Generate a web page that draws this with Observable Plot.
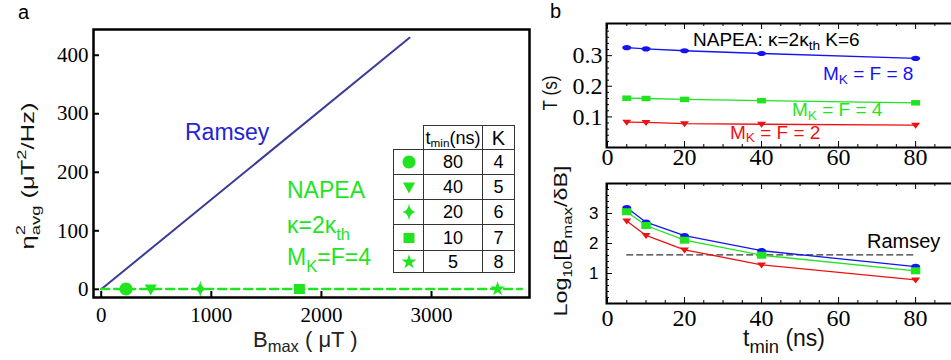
<!DOCTYPE html>
<html><head><meta charset="utf-8">
<script src="https://cdn.jsdelivr.net/npm/d3@7"></script>
<script src="https://cdn.jsdelivr.net/npm/@observablehq/plot@0.6"></script>
<style>
html,body{margin:0;padding:0;background:#fff;overflow:hidden}
#fig{position:relative;width:951px;height:360px;overflow:hidden;background:#fff}
.pl{position:absolute}
.pl svg{max-width:none!important;display:block;overflow:visible}
#tbl{position:absolute;left:393px;top:125px;border-collapse:collapse;table-layout:fixed;width:121px;font-family:"Liberation Sans",Arial,sans-serif;color:#000}
#tbl td,#tbl th{border:1px solid #333;padding:0;text-align:center;font-weight:normal;font-size:18px;line-height:1}
#tbl th.blank{border-top:none;border-left:none}
#tbl sub{font-size:0.65em;vertical-align:-0.25em;line-height:0}
#tbl td svg{display:block;margin:auto}
#ann{position:absolute;left:0;top:0;pointer-events:none}
</style></head><body>
<div id="fig">
 <div id="pa" class="pl" style="left:0;top:0;width:540px;height:360px"></div>
 <div id="pb1" class="pl" style="left:540px;top:0;width:414px;height:170px"></div>
 <div id="pb2" class="pl" style="left:540px;top:170px;width:414px;height:190px"></div>
 <table id="tbl"><colgroup><col style="width:30px"><col style="width:59px"><col style="width:32px"></colgroup></table>
 <svg id="ann" width="951" height="360"></svg>
</div>
<script>
// ---------- data ----------
// panel a
const ramseyB = [0, 2800];
const ramseyEta = [0, 430];
const napeaLineB = [0, 3820];
const napeaLineEta = [0.5, 0.5];
const napeaB = [225, 450, 900, 1800, 3600];
const napeaEta = [0.5, 0.5, 0.5, 0.5, 0.5];
const napeaTmin = [80, 40, 20, 10, 5];
const napeaK = [4, 5, 6, 7, 8];
const aXTicks = [0, 1000, 2000, 3000];
const aYTicks = [0, 100, 200, 300, 400];
// panel b
const tmin = [5, 10, 20, 40, 80];
const T_F8 = [0.326, 0.322, 0.316, 0.307, 0.291];
const T_F4 = [0.161, 0.160, 0.157, 0.153, 0.146];
const T_F2 = [0.083, 0.082, 0.078, 0.076, 0.073];
const L_F8 = [3.19, 2.71, 2.26, 1.76, 1.23];
const L_F4 = [3.06, 2.60, 2.11, 1.61, 1.09];
const L_F2 = [2.75, 2.27, 1.79, 1.29, 0.79];
const ramseyLogT = [5, 80];
const ramseyLog = [1.62, 1.62];
const bXTicks = [0, 20, 40, 60, 80];
const b1YTicks = [0.1, 0.2, 0.3];
const b2YTicks = [1, 2, 3];

// ---------- styles ----------
const GREEN = "#1fe41f", BLUE = "#1414f0", RED = "#ee1111", NAVY = "#3b3b98";
const SERIF_STACK = "'Liberation Serif', 'Times New Roman', serif";
const SANS_STACK = "'Liberation Sans', Arial, sans-serif";

// ---------- custom symbols ----------
function ellipseSym(rx, ry) { return {draw(c) { const k = 0.5523;
  c.moveTo(rx, 0); c.bezierCurveTo(rx, ry*k, rx*k, ry, 0, ry); c.bezierCurveTo(-rx*k, ry, -rx, ry*k, -rx, 0);
  c.bezierCurveTo(-rx, -ry*k, -rx*k, -ry, 0, -ry); c.bezierCurveTo(rx*k, -ry, rx, -ry*k, rx, 0); c.closePath(); }}; }
function rectSym(w, h) { return {draw(c) { c.rect(-w/2, -h/2, w, h); }}; }
function triDownSym(w, h) { return {draw(c) { c.moveTo(-w/2, -h*0.4); c.lineTo(w/2, -h*0.4); c.lineTo(0, h*0.6); c.closePath(); }}; }
function sparkleSym(w, h) { return {draw(c) { const a = w/2, b = h/2, q = 0.13;
  c.moveTo(0, -b); c.quadraticCurveTo(a*q, -b*q, a, 0); c.quadraticCurveTo(a*q, b*q, 0, b);
  c.quadraticCurveTo(-a*q, b*q, -a, 0); c.quadraticCurveTo(-a*q, -b*q, 0, -b); c.closePath(); }}; }
function starSym(R) { return {draw(c) { d3.symbolStar.draw(c, R*R/0.8908130915292852); }}; }

const aSyms = [ellipseSym(6.5, 6.5), triDownSym(12, 11), sparkleSym(13, 17), rectSym(11, 10), starSym(7.8)];

function frameTicks({xMajor = [], xMinor = [], yMajor = [], yMinor = [], fw, fh, major = 6, minor = 3, sw = 1, top = false}) {
  const m = [
    Plot.ruleX(xMajor, {insetTop: fh - major, strokeWidth: sw}),
    Plot.ruleX(xMinor, {insetTop: fh - minor, strokeWidth: sw}),
    Plot.ruleY(yMajor, {insetRight: fw - major, strokeWidth: sw}),
    Plot.ruleY(yMinor, {insetRight: fw - minor, strokeWidth: sw})
  ];
  if (top) m.push(Plot.ruleX(xMajor, {insetBottom: fh - major, strokeWidth: sw}),
                  Plot.ruleX(xMinor, {insetBottom: fh - minor, strokeWidth: sw}));
  return m;
}

// ---------- panel a ----------
const ramseyRows = ramseyB.map((B, i) => ({B, eta: ramseyEta[i]}));
const napeaLineRows = napeaLineB.map((B, i) => ({B, eta: napeaLineEta[i]}));
const napeaRows = napeaB.map((B, i) => ({B, eta: napeaEta[i], t: napeaTmin[i], K: napeaK[i]}));

const pa = Plot.plot({
  width: 540, height: 360, marginLeft: 93, marginRight: 11, marginTop: 29, marginBottom: 63,
  x: {domain: [-70, 3890]}, y: {domain: [-14, 444]},
  style: {fontSize: "21px", fontFamily: SERIF_STACK, color: "#000", background: "transparent", maxWidth: "none"},
  marks: [
    Plot.line(ramseyRows, {x: "B", y: "eta", stroke: NAVY, strokeWidth: 2}),
    Plot.line(napeaLineRows, {x: "B", y: "eta", stroke: GREEN, strokeWidth: 2.5, strokeDasharray: "8,5"}),
    ...aSyms.map((s, k) => Plot.dot(napeaRows, {filter: (d, i) => i === k, x: "B", y: "eta", symbol: s, r: 1, fill: GREEN, stroke: "none"})),
    Plot.frame({stroke: "#000", strokeWidth: 2.5}),
    ...frameTicks({xMajor: aXTicks, yMajor: aYTicks, fw: 436, fh: 268, major: 6, sw: 2}),
    Plot.axisX(aXTicks, {tickSize: 0, tickPadding: 10, label: null, fontFamily: SERIF_STACK, fontSize: 21, tickFormat: d => String(d)}),
    Plot.axisY(aYTicks, {tickSize: 0, tickPadding: 5, label: null, fontFamily: SERIF_STACK, fontSize: 21, tickFormat: d => String(d)})
  ]
});
document.getElementById("pa").append(pa);

// ---------- panel b top ----------
const bRows = tmin.map((t, i) => ({t, T8: T_F8[i], T4: T_F4[i], T2: T_F2[i], L8: L_F8[i], L4: L_F4[i], L2: L_F2[i]}));
const bXMinor = d3.range(5, 90, 5).filter(v => v % 20 !== 0);
const b1YMinor = d3.range(0.02, 0.401, 0.02).filter(v => Math.abs(v*10 - Math.round(v*10)) > 1e-6);
const b2YMinor = d3.range(0.2, 4.01, 0.2).filter(v => Math.abs(v - Math.round(v)) > 1e-6);

function series(key, color, sym) {
  return [Plot.line(bRows, {x: "t", y: key, stroke: color, strokeWidth: 1.3}),
          Plot.dot(bRows, {x: "t", y: key, symbol: sym, r: 1, fill: color, stroke: "none"})];
}

const pb1 = Plot.plot({
  width: 414, height: 170, marginLeft: 66, marginRight: 0, marginTop: 23, marginBottom: 23,
  x: {domain: [-0.26, 90.1]}, y: {domain: [0, 0.405]},
  style: {fontSize: "24px", fontFamily: SERIF_STACK, color: "#000", background: "transparent", maxWidth: "none"},
  marks: [
    ...series("T8", BLUE, ellipseSym(4.5, 2.6)),
    ...series("T4", GREEN, rectSym(9, 5.5)),
    ...series("T2", RED, triDownSym(9, 6)),
    Plot.frame({stroke: "#000", strokeWidth: 2}),
    ...frameTicks({xMajor: bXTicks, xMinor: bXMinor, yMajor: b1YTicks, yMinor: b1YMinor, fw: 348, fh: 124, top: true}),
    Plot.axisX(bXTicks, {tickSize: 0, tickPadding: 0, label: null, fontFamily: SERIF_STACK, fontSize: 24, tickFormat: d => String(d)}),
    Plot.axisY(b1YTicks, {tickSize: 0, tickPadding: 4, label: null, fontFamily: SERIF_STACK, fontSize: 24, tickFormat: d => String(d)})
  ]
});
document.getElementById("pb1").append(pb1);

// ---------- panel b bottom ----------
const ramseyLogRows = ramseyLogT.map((t, i) => ({t, v: ramseyLog[i]}));
const pb2 = Plot.plot({
  width: 414, height: 190, marginLeft: 66, marginRight: 0, marginTop: 13, marginBottom: 57,
  x: {domain: [-0.26, 90.1]}, y: {domain: [0, 4]},
  style: {fontSize: "24px", fontFamily: SERIF_STACK, color: "#000", background: "transparent", maxWidth: "none"},
  marks: [
    Plot.line(ramseyLogRows, {x: "t", y: "v", stroke: "#333", strokeWidth: 1.2, strokeDasharray: "6,4"}),
    ...series("L8", BLUE, ellipseSym(4.5, 2.8)),
    ...series("L4", GREEN, rectSym(9.5, 7)),
    ...series("L2", RED, triDownSym(9, 6)),
    Plot.frame({stroke: "#000", strokeWidth: 2}),
    ...frameTicks({xMajor: bXTicks, xMinor: bXMinor, yMajor: b2YTicks, yMinor: b2YMinor, fw: 348, fh: 120, top: true}),
    Plot.axisX(bXTicks, {tickSize: 0, tickPadding: 5, label: null, fontFamily: SERIF_STACK, fontSize: 24, tickFormat: d => String(d)}),
    Plot.axisY(b2YTicks, {tickSize: 0, tickPadding: 8, label: null, fontFamily: SANS_STACK, fontSize: 17, tickFormat: d => String(d)})
  ]
});
document.getElementById("pb2").append(pb2);

// ---------- table ----------
const tbl = d3.select("#tbl");
const rowH = [25, 25, 25, 26, 22];
const hdr = tbl.append("tr").style("height", "24px");
hdr.append("th").attr("class", "blank");
hdr.append("th").html("t<sub>min</sub>(ns)");
hdr.append("th").style("font-size", "20px").text("K");
napeaRows.forEach((d, i) => {
  const tr = tbl.append("tr").style("height", rowH[i] + "px");
  const svg = tr.append("td").append("svg").attr("width", 20).attr("height", 20);
  svg.append("path").attr("transform", "translate(10,10)").attr("fill", GREEN)
     .attr("d", d3.symbol(aSyms[i], 1)());
  tr.append("td").text(d.t);
  tr.append("td").text(d.K);
});

// ---------- annotations ----------
const ann = d3.select("#ann");
function addText(parent, parts, {x = 0, y = 0, size, color = "#000", anchor = "start", family = SANS_STACK}) {
  const t = parent.append("text").attr("x", x).attr("y", y).attr("font-size", size)
    .attr("fill", color).attr("font-family", family).attr("text-anchor", anchor);
  let shift = 0, lastLen = 0;
  for (const p of parts) {
    let txt, target = 0, fs = size;
    if (typeof p === "string") txt = p;
    else if (p.sub != null) { txt = p.sub; target = size * (p.shift ?? 0.3); fs = size * (p.scale ?? 0.72); }
    else { txt = p.sup; target = -size * (p.shift ?? 0.42); fs = size * (p.scale ?? 0.72); }
    const ts = t.append("tspan").attr("font-size", fs).attr("dy", target - shift).text(txt);
    if (p.stack) ts.attr("dx", -lastLen);
    shift = target;
    lastLen = ts.node().getComputedTextLength();
  }
  return t;
}
function rotLabel(parts, bx, cy, size, target, color = "#111") {
  const g = ann.append("g");
  const t = addText(g, parts, {size, anchor: "middle", color});
  const w = t.node().getBBox().width;
  g.attr("transform", `translate(${bx},${cy}) rotate(-90) scale(${target / w},1)`);
}

addText(ann, ["a"], {x: 18, y: 19, size: 20});
addText(ann, ["b"], {x: 550, y: 18, size: 20});
addText(ann, ["Ramsey"], {x: 185, y: 140, size: 23, color: "#2424d6"});
addText(ann, ["NAPEA"], {x: 287, y: 198, size: 23, color: GREEN});
addText(ann, ["κ=2κ", {sub: "th"}], {x: 287, y: 233, size: 23, color: GREEN});
addText(ann, ["M", {sub: "K"}, "=F=4"], {x: 287, y: 265, size: 23, color: GREEN});
addText(ann, ["NAPEA: κ=2κ", {sub: "th", shift: 0.22}, " K=6"], {x: 693, y: 46, size: 19});
addText(ann, ["M", {sub: "K", shift: 0.22}, " = F = 8"], {x: 823, y: 80, size: 19, color: BLUE});
addText(ann, ["M", {sub: "K", shift: 0.2}, " = F = 4"], {x: 792, y: 116, size: 19, color: GREEN});
addText(ann, ["M", {sub: "K", shift: 0.16}, " = F = 2"], {x: 730, y: 139, size: 19, color: RED});
addText(ann, ["Ramsey"], {x: 867, y: 248, size: 20});
addText(ann, ["B", {sub: "max", scale: 0.75, shift: 0.22}, " ( μT )"], {x: 253, y: 347, size: 22, color: "#222"});
addText(ann, ["t", {sub: "min", scale: 0.8, shift: 0.3}, " (ns)"], {x: 743, y: 346, size: 23, color: "#111"});
rotLabel(["η", {sup: "2", scale: 0.72, shift: 0.45}, {sub: "avg", scale: 0.72, shift: 0.3, stack: true}, "  (μT", {sup: "2"}, "/Hz)"], 34, 176, 19, 147);
rotLabel(["T (s)"], 557, 93, 20, 35);
rotLabel(["Log", {sub: "10", scale: 0.65, shift: 0.25}, "[B", {sub: "max", scale: 0.72, shift: 0.25}, "/δB]"], 567, 241, 19, 151);
</script>
</body></html>
